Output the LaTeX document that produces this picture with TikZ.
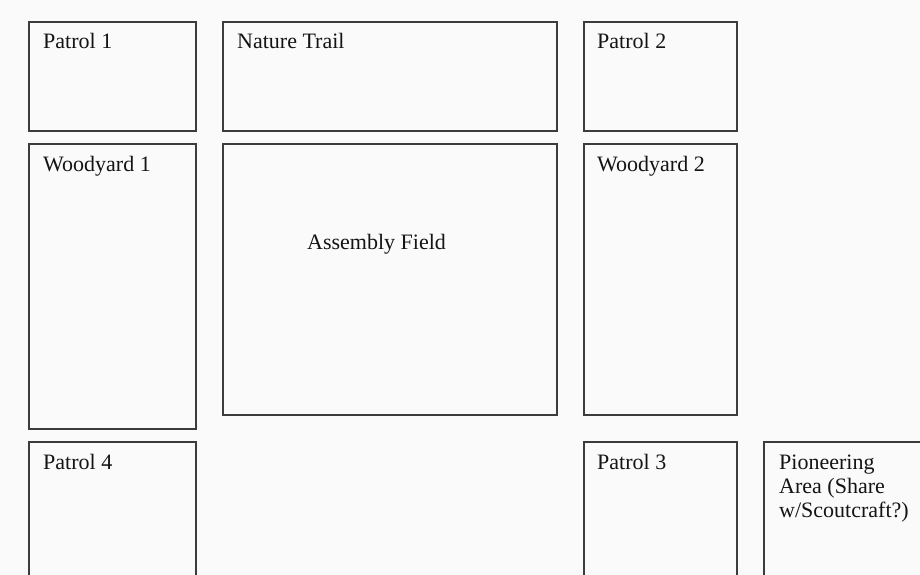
\documentclass[tikz,border=0pt]{standalone}
\usepackage{fontspec}
\setmainfont{Liberation Serif}
\usetikzlibrary{positioning}
\definecolor{paper}{RGB}{250,250,250}
\definecolor{edgegray}{RGB}{60,60,60}
\definecolor{inkgray}{RGB}{20,20,20}

\begin{document}
\begin{tikzpicture}[x=1pt, y=-1pt,
    area/.style={draw=edgegray, line width=1.6pt, anchor=north west,
                 inner sep=0pt, minimum width=#1},
    areaname/.style={text=inkgray, anchor=base west, inner sep=0pt,
                     font=\fontsize{22}{24}\selectfont, align=left,
                     xshift=15pt, yshift=-28pt}]

  % --- Page ---
  \fill[paper] (0,0) rectangle (920,575);
  \clip (0,0) rectangle (920,575);

  % --- Columns and rows ---
  \pgfmathsetmacro{\colA}{28}   % left column
  \pgfmathsetmacro{\colB}{222}  % middle column
  \pgfmathsetmacro{\colC}{583}  % right column
  \pgfmathsetmacro{\colD}{763}  % far right
  \pgfmathsetmacro{\rowA}{21}   % top row
  \pgfmathsetmacro{\rowB}{143}  % middle row
  \pgfmathsetmacro{\rowC}{441}  % bottom row

  % --- Top row ---
  \node[area=167pt, minimum height=109pt] (patrolone) at (\colA,\rowA) {};
  \node[areaname] at (patrolone.north west) {Patrol 1};

  \node[area=334pt, minimum height=109pt] (trail) at (\colB,\rowA) {};
  \node[areaname] at (trail.north west) {Nature Trail};

  \node[area=153pt, minimum height=109pt] (patroltwo) at (\colC,\rowA) {};
  \node[areaname, xshift=-1pt] at (patroltwo.north west) {Patrol 2};

  % --- Middle row ---
  \node[area=167pt, minimum height=285pt] (woodone) at (\colA,\rowB) {};
  \node[areaname] at (woodone.north west) {Woodyard 1};

  \node[area=334pt, minimum height=271pt] (field) at (\colB,\rowB) {};
  \node[areaname, xshift=70pt, yshift=-78pt] at (field.north west) {Assembly Field};

  \node[area=153pt, minimum height=271pt] (woodtwo) at (\colC,\rowB) {};
  \node[areaname, xshift=-1pt] at (woodtwo.north west) {Woodyard 2};

  % --- Bottom row (runs off the page) ---
  \node[area=167pt, minimum height=160pt] (patrolfour) at (\colA,\rowC) {};
  \node[areaname] at (patrolfour.north west) {Patrol 4};

  \node[area=153pt, minimum height=160pt] (patrolthree) at (\colC,\rowC) {};
  \node[areaname, xshift=-1pt] at (patrolthree.north west) {Patrol 3};

  \node[area=180pt, minimum height=160pt] (pioneer) at (\colD,\rowC) {};
  \node[areaname, xshift=1pt, yshift=-48pt] at (pioneer.north west)
    {Pioneering\\Area (Share\\w/Scoutcraft?)};

\end{tikzpicture}
\end{document}
